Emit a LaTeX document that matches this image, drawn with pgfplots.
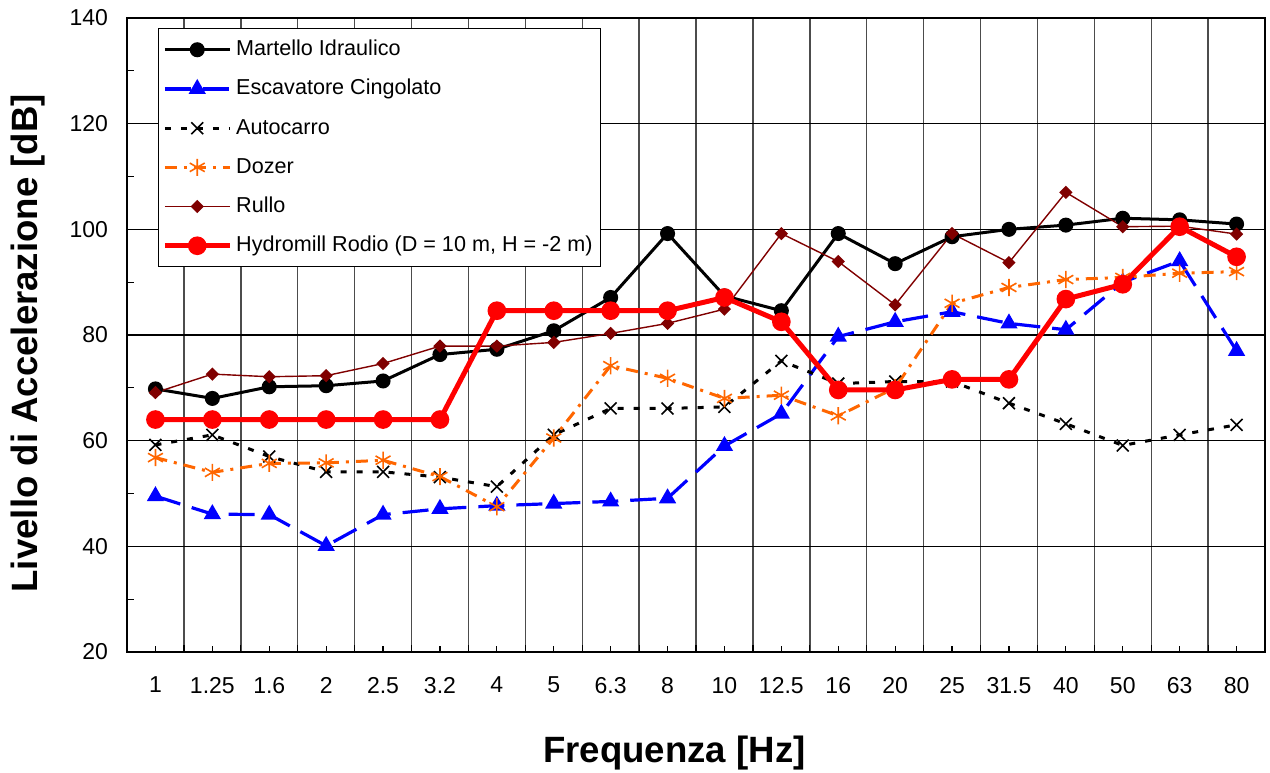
\documentclass[border=0pt]{standalone}
\usepackage{fontspec}
\setmainfont{Liberation Sans}
\usepackage{pgfplots}
\usepackage{pgfplotstable}
\pgfplotsset{compat=1.18}

\definecolor{escblue}{RGB}{0,0,255}
\definecolor{dozorange}{RGB}{255,102,0}
\definecolor{rulred}{RGB}{128,0,0}
\definecolor{hydred}{RGB}{255,0,0}

% levels in dB per 1/3 octave band (1 ... 80 Hz)
\pgfplotstableread{
x  mart   esc   auto  doz   rul    hyd
0  69.8   49.5  59.2  56.8  69.1   64.0
1  68.0   46.1  61.1  54.0  72.6   64.0
2  70.2   46.0  57.0  55.7  72.1   64.0
3  70.4   40.1  54.1  55.8  72.3   64.0
4  71.3   46.0  54.1  56.3  74.6   64.0
5  76.3   47.1  53.1  53.2  77.9   64.0
6  77.3   47.7  51.3  47.5  77.9   84.6
7  80.8   48.1  61.1  60.5  78.6   84.6
8  87.1   48.5  66.1  74.2  80.3   84.6
9  99.2   49.1  66.1  71.8  82.2   84.6
10 87.4   59.0  66.4  68.0  84.9   87.1
11 84.6   65.1  75.1  68.6  99.2   82.5
12 99.2   79.7  70.8  64.7  93.9   69.6
13 93.5   82.5  71.2  70.0  85.7   69.6
14 98.6   84.4  71.2  86.0  99.2   71.6
15 100.0  82.2  67.1  89.0  93.7   71.6
16 100.8  81.0  63.2  90.5  107.0  86.8
17 102.1  90.0  59.1  90.9  100.5  89.6
18 101.8  94.0  61.1  91.7  100.6  100.5
19 101.0  77.0  63.0  92.0  99.1   94.8
}\datatable

\begin{document}
\begin{tikzpicture}
\begin{axis}[
    scale only axis,
    width=569pt,
    height=317pt,
    xmin=-0.5, xmax=19.5,
    ymin=20, ymax=140,
    xtick={0,...,19},
    xticklabels={1,1.25,1.6,2,2.5,3.2,4,5,6.3,8,10,12.5,16,20,25,31.5,40,50,63,80},
    minor xtick={-0.5,0.5,...,19.5},
    ytick={20,40,...,140},
    minor ytick={30,50,...,130},
    xminorgrids=true,
    ymajorgrids=true,
    minor x grid style={black!70, line width=0.7pt},
    major y grid style={black, line width=0.6pt},
    tick pos=left,
    tick align=inside,
    major tick length=3pt,
    minor tick length=3.5pt,
    tick style={black, line width=0.6pt},
    axis line style={black, line width=0.8pt},
    /pgf/number format/assume math mode=true,
    tick label style={font=\fontsize{11.5}{13}\selectfont},
    xticklabel style={yshift=-9pt},
    yticklabel style={xshift=-6pt},
    xlabel={Frequenza [Hz]},
    ylabel={Livello di Accelerazione [dB]},
    label style={font=\fontsize{18.3}{22}\selectfont\bfseries, inner sep=0pt},
    xlabel style={at={(axis description cs:0.481,-0.159)}, anchor=center},
    ylabel style={at={(axis description cs:-0.087,0.487)}, anchor=center},
    legend cell align=left,
    legend style={
        at={(0.027,0.984)}, anchor=north west,
        draw=black, line width=0.6pt, fill=white,
        font=\fontsize{10.8}{13}\selectfont,
        row sep=4.6pt,
        inner xsep=2pt, inner ysep=3pt,
        nodes={inner sep=2pt, text height=8.5pt, text depth=2.5pt},
        /tikz/every even column/.append style={column sep=0pt},
    },
    legend image code/.code={
        \draw[mark repeat=2, mark phase=2, #1]
            plot coordinates {(0cm,0cm) (0.57cm,0cm) (1.14cm,0cm)};
    },
]
\addplot[black, line width=1.5pt, mark=*, mark size=3pt,
    mark options={solid}] table[x=x, y=mart] {\datatable};
\addlegendentry{Martello Idraulico}

\addplot[escblue, line width=1.6pt, dash pattern=on 13pt off 6pt,
    mark=triangle*, mark size=3.4pt, mark options={solid}]
    table[x=x, y=esc] {\datatable};
\addlegendentry{Escavatore Cingolato}

\addplot[black, line width=1.5pt, dash pattern=on 3pt off 5pt,
    mark=x, mark size=4.2pt, mark options={solid, line width=0.8pt}]
    table[x=x, y=auto] {\datatable};
\addlegendentry{Autocarro}

\addplot[dozorange, line width=1.5pt,
    dash pattern=on 6pt off 3.5pt on 1.5pt off 3.5pt,
    mark=asterisk, mark size=4.3pt, mark options={solid, line width=0.8pt}]
    table[x=x, y=doz] {\datatable};
\addlegendentry{Dozer}

\addplot[rulred, line width=0.7pt, mark=square*, mark size=2pt,
    mark options={solid, rotate=45}] table[x=x, y=rul] {\datatable};
\addlegendentry{Rullo}

\addplot[hydred, line width=2.5pt, mark=*, mark size=3.4pt,
    mark options={solid}] table[x=x, y=hyd] {\datatable};
\addlegendentry{Hydromill Rodio (D = 10 m, H = -2 m)}

\coordinate (SW) at (rel axis cs:0,0);
\coordinate (NE) at (rel axis cs:1,1);
\end{axis}
% page margins around the axis, as in the reference
\path ([shift={(-63.5pt,-60pt)}]SW) rectangle ([shift={(2.5pt,9pt)}]NE);
\end{tikzpicture}
\end{document}
